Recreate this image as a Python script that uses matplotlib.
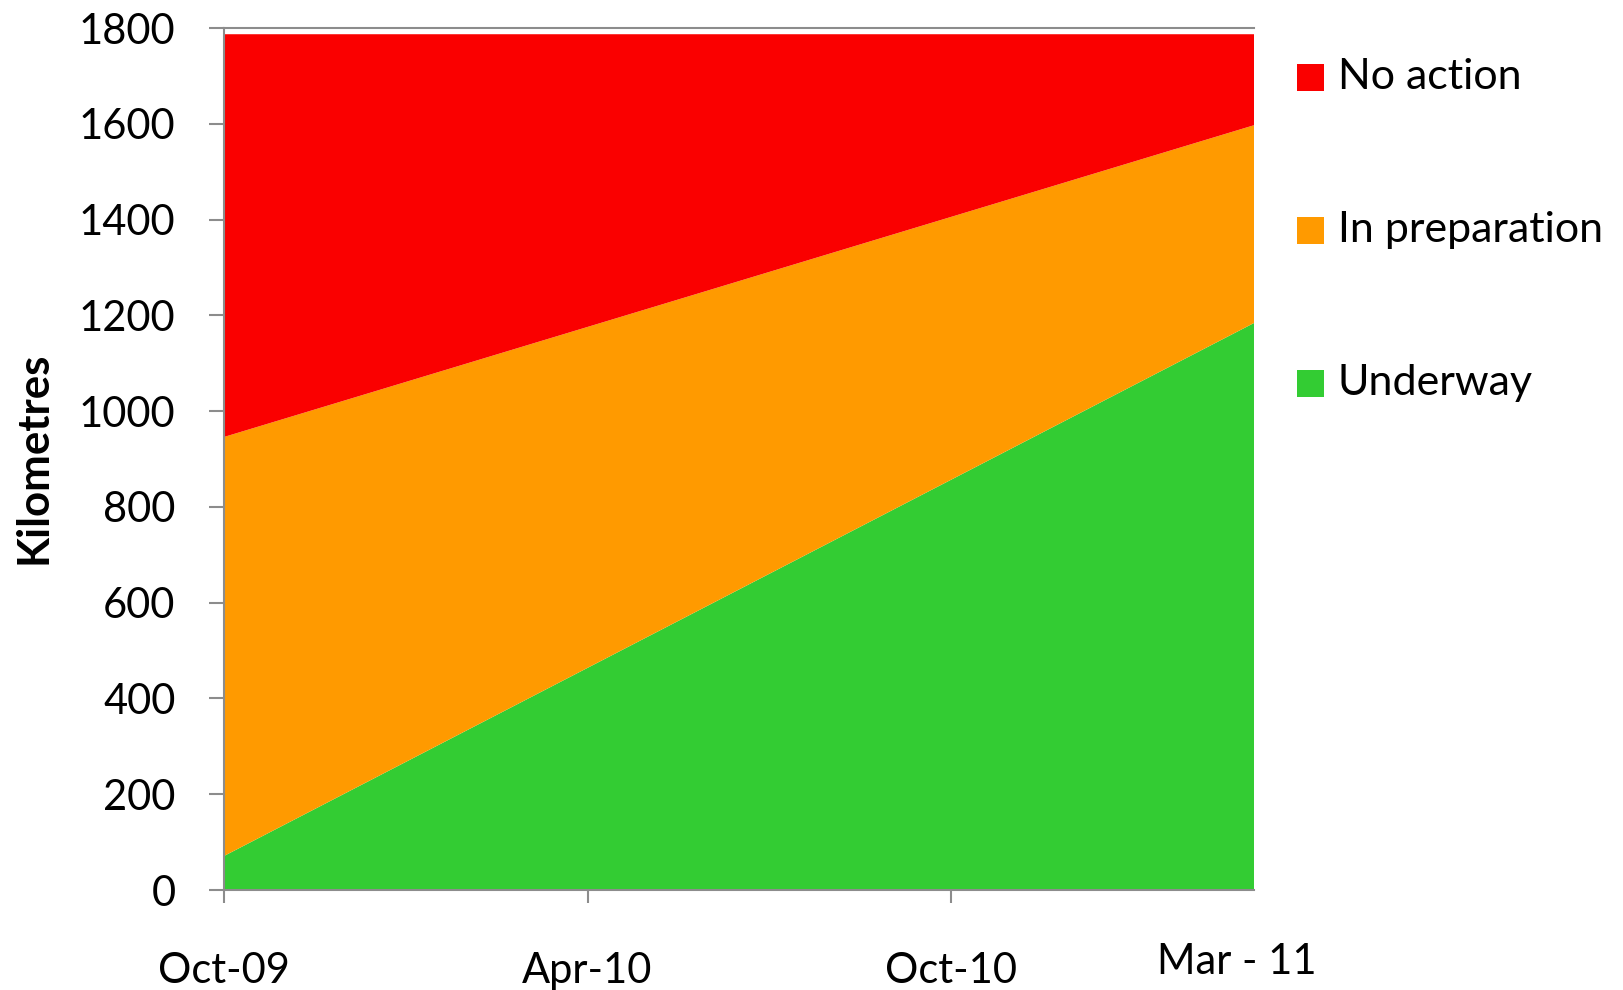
import matplotlib
matplotlib.use("Agg")
import matplotlib.pyplot as plt
from matplotlib.patches import Rectangle

# ---- data ----
months = [0, 17]                      # months since Oct-09 (Oct-09, Mar-11)
underway = [71, 1184]
in_preparation = [875, 413]
no_action = [841, 190]
series_labels = ["Underway", "In preparation", "No action"]
series_colors = ["#33CC33", "#FF9A00", "#FA0000"]
tick_pos = [0, 6, 12]
tick_labels = ["Oct-09", "Apr-10", "Oct-10"]
end_label = "Mar - 11"
y_ticks = [0, 200, 400, 600, 800, 1000, 1200, 1400, 1600, 1800]

plt.rcParams['font.family'] = ['Lato', 'DejaVu Sans']

fig = plt.figure(figsize=(16.24, 9.9), dpi=100)
ax = fig.add_axes([224/1624, 1-890/990, (1254-224)/1624, (890-28)/990])

ax.stackplot(months, underway, in_preparation, no_action,
             colors=series_colors, linewidth=0)

ax.set_xlim(0, 17)
ax.set_ylim(0, 1800)
ax.set_yticks(y_ticks)
ax.set_yticklabels([str(v) for v in y_ticks])
ax.set_xticks(tick_pos)
ax.set_xticklabels(tick_labels)

gray = "#8C8C8C"
for s in ["left", "bottom", "top"]:
    ax.spines[s].set_color(gray)
    ax.spines[s].set_linewidth(1.5)
ax.spines["right"].set_visible(False)
ax.tick_params(axis="y", direction="out", length=11, width=1.5, color=gray,
               labelsize=30, pad=24)
ax.tick_params(axis="x", direction="out", length=9.5, width=1.5, color=gray,
               labelsize=30, pad=35)

ax.text(1237/1624, 1-962/990, end_label, transform=fig.transFigure,
        fontsize=30, ha="center", va="center")

fig.text(34/1624, 1-458/990, "Kilometres", rotation=90, fontsize=31.5,
         fontweight="bold", ha="center", va="center")

# legend (top to bottom: No action, In preparation, Underway)
rows_y = [77, 230, 383]
for lab, col, yy in zip(series_labels[::-1], series_colors[::-1], rows_y):
    fig.patches.append(Rectangle((1297/1624, 1-(yy+13.5)/990), 27/1624, 27/990,
                                 transform=fig.transFigure, facecolor=col,
                                 edgecolor="none"))
    fig.text(1338/1624, 1-yy/990, lab, fontsize=31, ha="left", va="center")

fig.savefig("out.png", dpi=100)
